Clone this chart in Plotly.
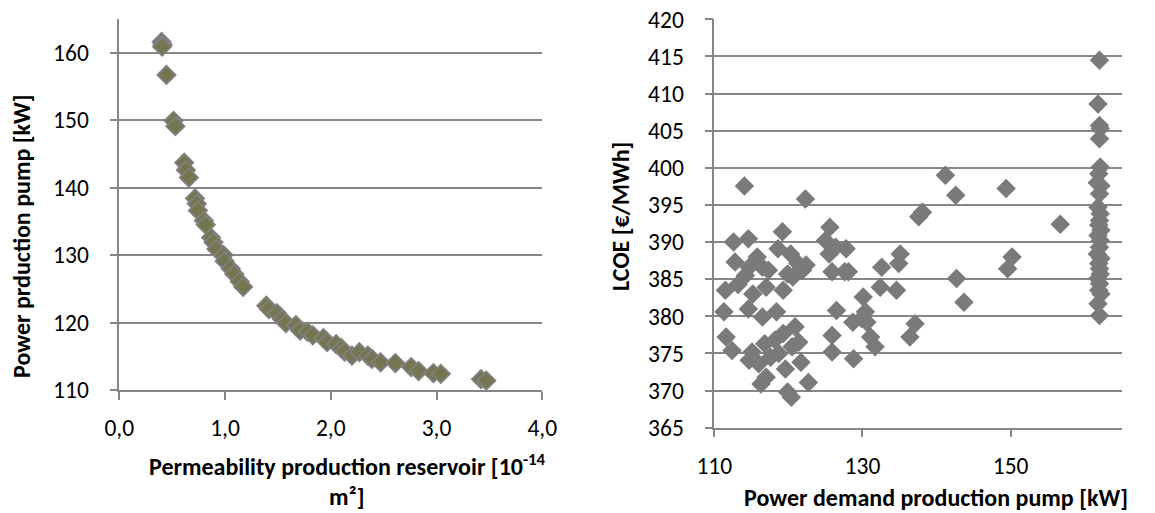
import plotly.graph_objects as go

# Permeability of the production reservoir [1e-14 m²] vs. pump power [kW]
perm = [0.40, 0.41, 0.405, 0.446, 0.513, 0.53, 0.614, 0.63, 0.658, 0.716, 0.733, 0.743,
        0.80, 0.817, 0.868, 0.89, 0.918, 0.986, 0.996, 1.053, 1.087, 1.138, 1.171,
        1.39, 1.415, 1.49, 1.54, 1.576, 1.67, 1.71, 1.78, 1.83, 1.93, 1.965, 2.05,
        2.10, 2.13, 2.20, 2.27, 2.35, 2.39, 2.47, 2.61, 2.76, 2.83, 2.97, 3.04, 3.42, 3.47]
pump_power = [161.6, 161.2, 160.9, 156.7, 149.9, 149.1, 143.7, 142.6, 141.5, 138.4, 137.6, 136.6,
              135.1, 134.5, 132.6, 131.9, 130.9, 130.0, 129.1, 128.0, 127.2, 126.1, 125.3,
              122.5, 122.0, 121.4, 120.5, 119.9, 119.6, 118.8, 118.6, 118.1, 117.7, 117.1, 116.8,
              116.2, 115.7, 115.1, 115.6, 115.1, 114.6, 114.1, 114.0, 113.4, 112.8, 112.5, 112.4, 111.6, 111.4]

# Pump power demand [kW] vs. levelized cost of energy [€/MWh]
demand = [114.06, 122.3, 112.6, 114.6, 112.8, 113.2, 114.2, 114.7, 111.5, 111.3, 111.6, 112.4,
          115.2, 114.6, 115.8, 116.5, 117.3, 117.0, 116.5, 118.4, 119.2, 118.6, 120.3, 119.3,
          119.9, 120.6, 121.3, 122.4, 121.9, 115.1, 114.7, 116.0, 116.8, 117.6, 116.3, 117.0,
          118.2, 118.7, 119.3, 119.6, 119.9, 120.4, 120.9, 121.4, 121.7, 122.7, 120.5,
          125.6, 125.0, 125.5, 126.4, 125.9, 127.8, 127.6, 128.1, 126.5, 125.9, 125.9, 128.7,
          128.8, 130.1, 130.4, 130.6, 129.9, 131.1, 131.7, 132.6, 132.4, 135.1, 134.9, 134.6,
          137.1, 136.4, 138.1, 137.6, 141.2, 142.6, 142.7, 143.7, 149.4, 150.2, 149.6, 156.7,
          162.0, 161.8, 162.0, 162.1, 162.0, 162.1, 161.9, 161.7, 162.2, 162.0, 161.8, 162.1,
          162.0, 161.9, 162.2, 161.8, 162.1, 162.0, 161.7, 162.2, 161.9, 162.0, 162.1, 161.8,
          162.0, 161.9, 162.2, 161.8, 162.0]
lcoe = [397.55, 395.8, 390.0, 390.45, 387.3, 384.3, 385.5, 386.6, 383.5, 380.6, 377.2, 375.4,
        383.0, 381.0, 388.0, 386.6, 386.2, 383.9, 379.9, 380.6, 391.4, 389.1, 388.4, 383.5,
        385.7, 385.3, 387.1, 386.9, 386.2, 375.2, 374.1, 373.6, 376.3, 374.5, 370.9, 371.8,
        376.8, 375.0, 377.7, 372.9, 369.8, 369.1, 378.6, 376.5, 373.8, 371.1, 375.9,
        392.0, 390.2, 388.4, 389.3, 386.0, 389.1, 386.0, 386.0, 380.8, 377.4, 375.2, 379.2,
        374.3, 382.6, 380.6, 379.2, 379.7, 377.2, 375.9, 386.6, 383.9, 388.4, 387.1, 383.5,
        379.0, 377.2, 394.0, 393.4, 399.0, 396.3, 385.1, 381.9, 397.2, 388.0, 386.4, 392.4,
        414.5, 408.6, 405.7, 405.3, 403.9, 400.1, 399.2, 398.0, 397.6, 396.5, 394.7, 393.8,
        392.9, 392.3, 391.6, 390.9, 390.2, 389.3, 388.4, 387.8, 387.1, 386.4, 385.7, 385.1,
        384.4, 383.5, 383.0, 381.7, 380.1]

perm_ticks = [0.0, 1.0, 2.0, 3.0, 4.0]
perm_ticktext = ["0,0", "1,0", "2,0", "3,0", "4,0"]
demand_ticks = [110, 130, 150]

FONT = "Calibri, Carlito, Lato, sans-serif"
GRID = "#868686"
W, H = 1155, 513
TICK_FONT = dict(family=FONT, size=23.5, color="#000000")

fig = go.Figure()

fig.add_trace(go.Scatter(
    x=perm, y=pump_power, mode="markers", xaxis="x", yaxis="y",
    marker=dict(symbol="diamond", size=14, color="#757550",
                line=dict(color="#808080", width=1.8)),
    showlegend=False, hoverinfo="x+y"))

fig.add_trace(go.Scatter(
    x=demand, y=lcoe, mode="markers", xaxis="x2", yaxis="y2",
    marker=dict(symbol="diamond", size=15, color="#7a7a7a",
                line=dict(width=0)),
    showlegend=False, hoverinfo="x+y"))

# fixed plot areas: no automatic margin growth
axis_common = dict(showline=True, linecolor=GRID, linewidth=1.5,
                   ticks="outside", ticklen=8, tickcolor=GRID, tickwidth=1.5,
                   tickfont=TICK_FONT, zeroline=False, fixedrange=True,
                   automargin=False)
x_common = dict(ticklabelstandoff=8, showgrid=False, **axis_common)
y_common = dict(ticklabelstandoff=16, showgrid=True, gridcolor=GRID, gridwidth=1.5,
                **axis_common)

fig.update_layout(
    width=W, height=H,
    margin=dict(l=0, r=0, t=0, b=0, pad=0),
    paper_bgcolor="white", plot_bgcolor="white",
    xaxis=dict(domain=[119.3/W, 542.3/W], range=[0, 4], anchor="y",
               tickvals=perm_ticks, ticktext=perm_ticktext, **x_common),
    yaxis=dict(domain=[1-390/H, 1-19/H], range=[110, 165], anchor="x",
               tick0=110, dtick=10, **y_common),
    xaxis2=dict(domain=[714.3/W, 1121.7/W], range=[110, 165], anchor="y2",
                tickvals=demand_ticks, **x_common),
    yaxis2=dict(domain=[1-427.7/H, 1-19.3/H], range=[365, 420], anchor="x2",
                tick0=365, dtick=5, **y_common),
)

title_font = dict(family=FONT, size=24, color="#000000")
annotations = [
    dict(text="<b>Power prduction pump [kW]</b>", x=21/W, y=1-236/H, textangle=-90),
    dict(text="<b>Permeability production reservoir [10<sup>-14</sup></b>", x=347/W, y=1-465/H),
    dict(text="<b>m²]</b>", x=346/W, y=1-496/H),
    dict(text="<b>LCOE [€/MWh]</b>", x=620/W, y=1-217/H, textangle=-90),
    dict(text="<b>Power demand production pump [kW]</b>", x=936/W, y=1-497/H),
]
for a in annotations:
    fig.add_annotation(xref="paper", yref="paper", showarrow=False,
                       xanchor="center", yanchor="middle", font=title_font, **a)

fig.write_html("out.html")
